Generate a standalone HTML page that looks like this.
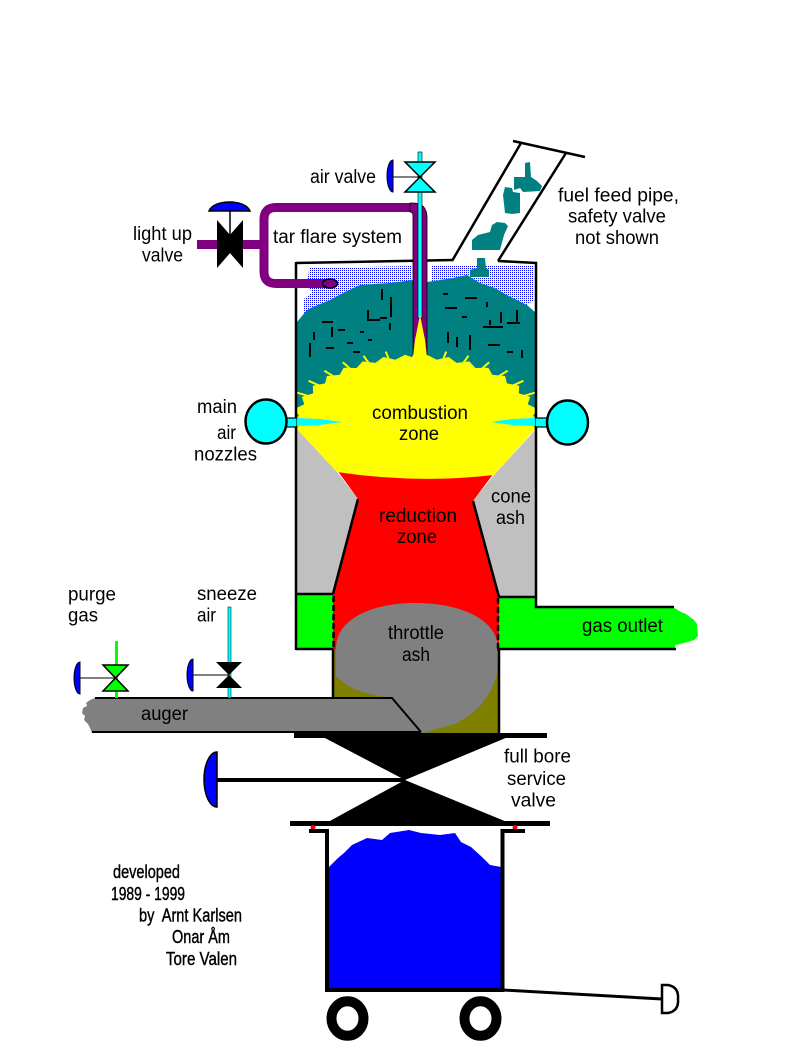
<!DOCTYPE html>
<html><head><meta charset="utf-8"><style>
html,body{margin:0;padding:0;background:#fff;}
svg{display:block;}
text{font-family:"Liberation Sans",Arial,sans-serif;font-size:19px;fill:#000;}
.cr{font-size:18px;stroke:#000;stroke-width:0.4;}
</style></head><body>
<svg width="793" height="1054" viewBox="0 0 793 1054" xmlns="http://www.w3.org/2000/svg">
<defs>
<pattern id="dots" width="2" height="2" patternUnits="userSpaceOnUse"><rect width="2" height="2" fill="#fff"/><rect width="1" height="1" fill="#00f"/></pattern>
<clipPath id="vin"><rect x="297" y="263" width="238" height="340"/></clipPath>
</defs>
<rect width="793" height="1054" fill="#fff"/>

<!-- stipple -->
<path d="M310 268 L412 266 L412 281 L390 283 L360 285 L345 292 L330 300 L313 307 L303 314 L303 300 L312 292 L306 285 Z" fill="url(#dots)"/>
<path d="M432 266 L533 266 L534 300 L527 305 L507 295 L495 288 L480 283 L467 275 L453 278 L432 281 Z" fill="url(#dots)"/>

<!-- teal fuel -->
<path d="M297 322 L307 310 L313 307 L330 300 L345 292 L360 285 L390 283 L413 280 L427 282 L453 278 L467 275 L480 283 L495 288 L507 295 L527 305 L536 313 L536 430 L297 430 Z" fill="#008080"/>
<g stroke="#000" stroke-width="2" fill="none">
<path d="M391 297V317 M368 310V320H380 M322 322H333 M332 327V337 M314 332V340 M338 330H345 M347 343H353 M353 352H360 M310 343V357 M360 332H364 M368 340H372 M380 318H387 M390 323V330 M326 348H334 M382 289V300"/>
<path d="M443 294H448 M465 298H477 M445 308H457 M487 302V307 M462 317H467 M490 320V325 M483 327H503 M501 312V323 M517 310V323 M507 323H520 M448 332V343 M457 337V347 M470 335V350 M488 345H500 M507 352H513 M522 350V358"/>
</g>

<!-- cone ash -->
<polygon points="296,428 337,472 358,499 332,594 296,594" fill="#c0c0c0"/>
<polygon points="537,428 494,475 473,501 500,597 537,597" fill="#c0c0c0"/>
<!-- red reduction -->
<path d="M337 470 L358 499 L333 594 L333 649 L499 649 L499 597 L473 501 L494 473 Z" fill="#f00"/>

<!-- yellow combustion -->
<g clip-path="url(#vin)">
<path d="M536 428 L541.5 421.6 L533 415.9 L537.7 409 L527.7 404.3 L530.2 396.9 L518.9 393.4 L519.2 385.8 L507 383.4 L505.1 376 L492.4 374.9 L488.3 367.8 L475.4 368 L469.3 361.4 L456.6 362.9 L448.6 357 L436.7 359.7 L427 354.8 L416 358.7 L405 354.8 L395.3 359.7 L383.4 357 L375.4 362.9 L362.7 361.4 L356.6 368 L343.7 367.8 L339.6 374.9 L326.9 376 L325 383.4 L312.8 385.8 L313.1 393.4 L301.8 396.9 L304.3 404.3 L294.3 409 L299 415.9 L290.5 421.6 L296 428 L337 472 Q416 484 494 475 Z" fill="#ff0"/>
<g stroke="#ff0" stroke-width="2" fill="none">
<path d="M522.9 396.2L535.8 392.4 M511.9 385.9L523.4 380.8 M497.8 376.8L507.7 370.7 M481.4 369.3L489.2 362.2 M462.9 363.5L468.5 355.8 M443 359.8L446.2 351.6 M422.2 358.1L423 349.7"/>
<path d="M389 359.8L385.8 351.6 M369.1 363.5L363.5 355.8 M350.6 369.3L342.8 362.2 M334.2 376.8L324.3 370.7 M320.1 385.9L308.6 380.8 M309.1 396.2L296.2 392.4"/>
</g>
</g>

<!-- green boxes / gas outlet -->
<rect x="296" y="594" width="37" height="55" fill="#0f0"/>
<path d="M499 597 L536 597 L536 607 L673 607 L676 609 L681 612 L686 614 L690 617 L694 620 L697 624 L698 636 L694 640 L688 642 L680 644 L675 645 L675 649 L499 649 Z" fill="#0f0"/>

<!-- olive lower -->
<rect x="333" y="649" width="166" height="84" fill="#808000"/>
<!-- throttle ash blob -->
<path d="M336 648 C336 620 370 603 415 603 C465 603 498 622 498 648 L498 665 C496 690 480 712 455 724 L422 733 L392 698 L380 696 C360 693 345 686 336 676 Z" fill="#808080"/>
<!-- auger -->
<polygon points="95,698 392,698 421,733 92,733 90,728 88,724 84,720 85,716 82,713 83,708 87,706 86,703 90,700" fill="#808080"/>

<!-- lines -->
<g stroke="#000" stroke-width="2.5" fill="none">
<path d="M296 263 L453 260 M498 261 L537 263"/>
<path d="M296 262 V650 M536 262 V607 H674 M296 594 H333 M499 597 H536 M296 649 H333 M497 649 H676"/>
<path d="M358 499 L333 594 M473 501 L499 597"/>
<path d="M333 649 V698 M499 649 V733"/>
<path d="M333.5 596 V648 M498 598 V648" stroke-dasharray="6 3"/>
<path d="M95 698 H392 L421 732 M92 732 H421" stroke-width="2"/>
</g>

<!-- purple tar flare -->
<rect x="197" y="240" width="67" height="9" fill="#800080"/>
<path d="M331 283.5 L276 283.5 Q264 283.5 264 271.5 L264 219.5 Q264 207.5 276 207.5 L412 207.5" stroke="#800080" stroke-width="9" fill="none"/>
<path d="M410 203 L413 203 Q427 203 427 218 L427 357 L413 357 L413 216 Q413 212 410 212 Z" fill="#800080" stroke="#000" stroke-width="0.8"/>
<ellipse cx="330" cy="283.5" rx="7.5" ry="4.5" fill="#800080" stroke="#000" stroke-width="1.5"/>
<rect x="418" y="152" width="4" height="166" fill="#0ff" stroke="#000" stroke-width="0.6"/>
<polygon points="420,315 425,340 427,357 413,357 415,340" fill="#ff0"/>
<polygon points="413,355 427,355 433,368 407,368" fill="#ff0"/>

<!-- light up valve -->
<line x1="230" y1="210" x2="230" y2="244" stroke="#000" stroke-width="1.5"/>
<path d="M209 211 C214 199 245 199 250 211 Z" fill="#00f" stroke="#000" stroke-width="1.5"/>
<polygon points="217,220 217,268 238,244" fill="#000"/>
<polygon points="243,220 243,268 222,244" fill="#000"/>

<!-- air valve -->
<line x1="392" y1="177" x2="420" y2="177" stroke="#000" stroke-width="1"/>
<path d="M393 160 A6 16 0 0 0 393 192 Z" fill="#00f" stroke="#000" stroke-width="1"/>
<polygon points="405,162 435,162 420,177" fill="#0ff" stroke="#000" stroke-width="1.5"/>
<polygon points="405,192 435,192 420,177" fill="#0ff" stroke="#000" stroke-width="1.5"/>

<!-- nozzles -->
<rect x="285" y="418" width="12" height="9" fill="#0ff" stroke="#000" stroke-width="1.2"/>
<rect x="535" y="418" width="13" height="9" fill="#0ff" stroke="#000" stroke-width="1.2"/>
<polygon points="297,418 320,419 342,422 320,425 297,426" fill="#0ff"/>
<polygon points="535,418 512,419 491,422 512,425 535,426" fill="#0ff"/>
<ellipse cx="266" cy="421.5" rx="20.5" ry="22" fill="#0ff" stroke="#000" stroke-width="2.5"/>
<ellipse cx="567.5" cy="422.5" rx="20.5" ry="22" fill="#0ff" stroke="#000" stroke-width="2.5"/>

<!-- chute -->
<g stroke="#000" stroke-width="2.5">
<line x1="452" y1="261" x2="521" y2="143"/>
<line x1="498" y1="261" x2="566" y2="153"/>
<line x1="513" y1="141" x2="585" y2="157"/>
</g>
<g fill="#008080">
<polygon points="525,163 530,162 531,177 537,181 542,186 540,191 523,192 520,188 514,190 514,177 525,177"/>
<polygon points="505,187 512,188 513,192 520,193 520,213 512,214 505,213 503,195"/>
<polygon points="497,222 505,223 508,226 504,235 500,250 485,250 472,250 472,240 478,235 490,232 492,225"/>
<polygon points="477,258 485,258 486,268 489,270 489,277 470,277 470,270 477,268"/>
</g>

<!-- purge gas valve -->
<rect x="115" y="641" width="3" height="57" fill="#0f0"/>
<line x1="80" y1="678" x2="116" y2="678" stroke="#000" stroke-width="1"/>
<path d="M80 662 A6 16 0 0 0 80 694 Z" fill="#00f" stroke="#000" stroke-width="1"/>
<polygon points="103,665 128,665 115.5,678" fill="#0f0" stroke="#000" stroke-width="1.5"/>
<polygon points="103,691 128,691 115.5,678" fill="#0f0" stroke="#000" stroke-width="1.5"/>
<!-- sneeze air valve -->
<rect x="228" y="607" width="3" height="91" fill="#0ff" stroke="#000" stroke-width="0.5"/>
<line x1="193" y1="675" x2="229" y2="675" stroke="#000" stroke-width="1"/>
<path d="M193 659 A6 16 0 0 0 193 691 Z" fill="#00f" stroke="#000" stroke-width="1"/>
<polygon points="216,662 242,662 229,675" fill="#000"/>
<polygon points="216,688 242,688 229,675" fill="#000"/>

<!-- full bore valve -->
<rect x="294" y="733" width="253" height="5" fill="#000"/>
<polygon points="323,737 508,737 405,780" fill="#000"/>
<polygon points="328,822 507,822 405,780" fill="#000"/>
<rect x="290" y="821" width="260" height="5" fill="#000"/>
<rect x="217" y="778" width="188" height="4" fill="#000"/>
<path d="M217 752 A13 27.5 0 0 0 217 807 Z" fill="#00f" stroke="#000" stroke-width="1.5"/>
<circle cx="313" cy="827.5" r="2.5" fill="#f00"/>
<circle cx="515" cy="827.5" r="2.5" fill="#f00"/>

<!-- ash bin -->
<path d="M329 867 L338 858 L344 853 L352 845 L367 838 L382 840 L390 833 L409 830 L421 833 L440 835 L455 833 L461 842 L471 847 L482 857 L490 865 L501 867 L501 989 L329 989 Z" fill="#00f"/>
<path d="M309 831 L327 831 L327 990 L502.5 990 L502.5 831 L525 831" stroke="#000" stroke-width="4" fill="none"/>
<line x1="503" y1="990" x2="662" y2="999" stroke="#000" stroke-width="3"/>
<path d="M662 985 L668 985 Q679 987 678 999 Q679 1011 668 1013 L662 1013 Z" fill="#fff" stroke="#000" stroke-width="2.5"/>
<ellipse cx="347.5" cy="1018.5" rx="16" ry="17.2" fill="none" stroke="#000" stroke-width="10"/>
<ellipse cx="480.5" cy="1018.5" rx="16" ry="17.2" fill="none" stroke="#000" stroke-width="10"/>

<!-- labels -->
<text x="310" y="183" textLength="66" lengthAdjust="spacingAndGlyphs">air valve</text>
<text x="273" y="243" textLength="129" lengthAdjust="spacingAndGlyphs">tar flare system</text>
<text x="133" y="240" textLength="59" lengthAdjust="spacingAndGlyphs">light up</text>
<text x="142" y="261.5" textLength="41" lengthAdjust="spacingAndGlyphs">valve</text>
<text x="558" y="201.5" textLength="121" lengthAdjust="spacingAndGlyphs">fuel feed pipe,</text>
<text x="568" y="222.5" textLength="98" lengthAdjust="spacingAndGlyphs">safety valve</text>
<text x="575" y="244" textLength="84" lengthAdjust="spacingAndGlyphs">not shown</text>
<text x="197" y="413" textLength="40" lengthAdjust="spacingAndGlyphs">main</text>
<text x="217" y="439" textLength="19" lengthAdjust="spacingAndGlyphs">air</text>
<text x="194" y="460.5" textLength="63" lengthAdjust="spacingAndGlyphs">nozzles</text>
<text x="372" y="419" textLength="96" lengthAdjust="spacingAndGlyphs">combustion</text>
<text x="399" y="440" textLength="40" lengthAdjust="spacingAndGlyphs">zone</text>
<text x="379" y="522" textLength="78" lengthAdjust="spacingAndGlyphs">reduction</text>
<text x="397" y="543" textLength="40" lengthAdjust="spacingAndGlyphs">zone</text>
<text x="491" y="502.5" textLength="40" lengthAdjust="spacingAndGlyphs">cone</text>
<text x="496" y="524" textLength="29" lengthAdjust="spacingAndGlyphs">ash</text>
<text x="68" y="600.5" textLength="48" lengthAdjust="spacingAndGlyphs">purge</text>
<text x="68" y="621.5" textLength="30" lengthAdjust="spacingAndGlyphs">gas</text>
<text x="197" y="600" textLength="60" lengthAdjust="spacingAndGlyphs">sneeze</text>
<text x="197" y="621.5" textLength="19" lengthAdjust="spacingAndGlyphs">air</text>
<text x="388" y="639" textLength="56" lengthAdjust="spacingAndGlyphs">throttle</text>
<text x="402" y="661" textLength="28" lengthAdjust="spacingAndGlyphs">ash</text>
<text x="582" y="632" textLength="81" lengthAdjust="spacingAndGlyphs">gas outlet</text>
<text x="141" y="720" textLength="47" lengthAdjust="spacingAndGlyphs">auger</text>
<text x="504" y="762.5" textLength="67" lengthAdjust="spacingAndGlyphs">full bore</text>
<text x="507" y="785" textLength="59" lengthAdjust="spacingAndGlyphs">service</text>
<text x="511" y="806.5" textLength="45" lengthAdjust="spacingAndGlyphs">valve</text>

<text class="cr" x="113" y="878" textLength="67" lengthAdjust="spacingAndGlyphs">developed</text>
<text class="cr" x="111" y="900" textLength="74" lengthAdjust="spacingAndGlyphs">1989 - 1999</text>
<text class="cr" x="139" y="921.5" textLength="103" lengthAdjust="spacingAndGlyphs">by&#160; Arnt Karlsen</text>
<text class="cr" x="172" y="943" textLength="58" lengthAdjust="spacingAndGlyphs">Onar Åm</text>
<text class="cr" x="166" y="965" textLength="71" lengthAdjust="spacingAndGlyphs">Tore Valen</text>
</svg>
</body></html>
